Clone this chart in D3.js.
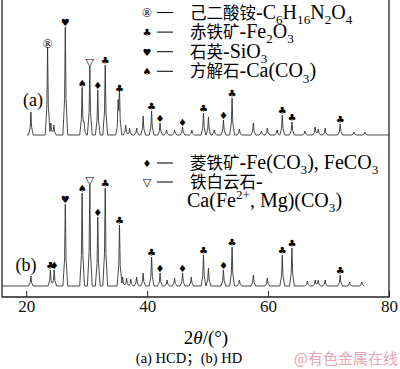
<!DOCTYPE html>
<html>
<head>
<meta charset="utf-8">
<script src="https://cdn.jsdelivr.net/npm/d3@7"></script>
<style>
  html, body { margin: 0; padding: 0; background: #fff; }
  svg { display: block; }
</style>
</head>
<body>
<div id="chart"></div>
<script>
// XRD patterns, 2θ (°) and intensity (a.u., above each pattern's own baseline)
const rangeA = [20.1, 80];
const peaksA = [20.78, 23.54, 24.08, 24.58, 26.47, 29.25, 29.6, 30.52, 31.84, 33.07, 35.2, 35.43, 36.45, 37.1, 38.27,
    39.34, 40.74, 42.14, 43.2, 44.54, 45.86, 47.4, 49.32, 50.14, 51.1, 52.62, 54.05, 55.26, 57.57, 58.9, 59.88, 61.5,
    62.35, 63.95, 66.1, 67.79, 68.3, 69.44, 71.92, 74.2, 76.0];
const intensA = [230, 880, 120, 100, 1080, 470, 100, 680, 450, 700, 270, 420, 100, 70, 70,
    190, 240, 120, 50, 50, 80, 50, 220, 180, 50, 150, 370, 60, 120, 40, 70, 50,
    200, 130, 40, 80, 60, 70, 110, 30, 30];

const rangeB = [16, 75.9];
const peaksB = [20.78, 24.0, 24.63, 26.47, 29.25, 30.52, 31.84, 33.07, 35.43, 35.95, 36.6, 37.3, 38.27, 39.34,
    40.74, 42.14, 43.3, 44.54, 45.86, 47.3, 49.32, 50.14, 52.62, 54.05, 55.26, 57.57, 59.88, 62.35, 63.95,
    66.5, 67.8, 68.3, 69.44, 71.92, 73.5, 75.5];
const intensB = [100, 160, 160, 820, 930, 1010, 690, 980, 610, 90, 80, 70, 90, 130,
    290, 130, 60, 80, 130, 90, 310, 180, 160, 390, 60, 110, 80, 310, 380,
    50, 60, 60, 60, 110, 40, 40];

const offsetA = 1510;   // pattern (a) is stacked above (b)

// phase markers
const markPosA = [23.54, 26.47, 29.25, 30.52, 31.84, 33.07, 35.43, 40.74, 42.14, 45.86, 49.32, 52.62, 54.05, 62.35, 63.95, 71.92];
const markSymA = ['®', '♥', '♠', '▽', '♦', '♣', '♣', '♣', '♦', '♦', '♣', '♦', '♣', '♣', '♣', '♣'];
const markPosB = [24.0, 24.63, 26.47, 29.25, 30.52, 31.84, 33.07, 35.43, 40.74, 42.14, 45.86, 49.32, 52.62, 54.05, 62.35, 63.95, 71.92];
const markSymB = ['♣', '♦', '♥', '♠', '▽', '♦', '♣', '♣', '♣', '♦', '♦', '♣', '♦', '♣', '♣', '♣', '♣'];

const xTicks = [20, 40, 60, 80];

const legendSymbols = ['®', '♣', '♥', '♠'];
const legendLabels = ['己二酸铵-C_{6}H_{16}N_{2}O_{4}', '赤铁矿-Fe_{2}O_{3}', '石英-SiO_{3}', '方解石-Ca(CO_{3})'];
const legend2Symbols = ['♦', '▽', ''];
const legend2Labels = ['菱铁矿-Fe(CO_{3}), FeCO_{3}', '铁白云石-', 'Ca(Fe^{2+}, Mg)(CO_{3})'];

const W = 400, H = 369;
const plot = { left: 2, right: 389, bottom: 297 };
const LAT = "'Liberation Serif', 'Times New Roman', serif";
const CJK = "'Noto Sans CJK SC', sans-serif";
const SYM = "'DejaVu Sans', sans-serif";

const svg = d3.select('#chart').append('svg')
    .attr('width', W).attr('height', H);

const x = d3.scaleLinear().domain([16, 80]).range([plot.left, plot.right]);
const y = d3.scaleLinear().domain([-110, 2860]).range([plot.bottom, 0]);

// peak profile (relative 2θ offset, relative height)
const profile = [[-0.4, 0], [-0.12, 0.33], [0, 1], [0.12, 0.33], [0.4, 0]];

function patternPoints(range, pos, inten, offset) {
    let ts = [range[0], range[1]];
    pos.forEach(p => profile.forEach(q => ts.push(p + q[0])));
    ts = ts.filter(t => t >= range[0] && t <= range[1]).sort((a, b) => a - b);
    return ts.map(t => {
        let v = 0;
        pos.forEach((p, i) => {
            const d = t - p;
            if (d <= profile[0][0] || d >= profile[profile.length - 1][0]) return;
            for (let k = 0; k < profile.length - 1; k++) {
                const a = profile[k], b = profile[k + 1];
                if (d >= a[0] && d <= b[0]) {
                    v += inten[i] * (a[1] + (b[1] - a[1]) * (d - a[0]) / (b[0] - a[0]));
                    break;
                }
            }
        });
        return [t, v + offset];
    });
}

const line = d3.line().x(d => x(d[0])).y(d => y(d[1]));

svg.append('path')
    .attr('d', line(patternPoints(rangeA, peaksA, intensA, offsetA)))
    .attr('fill', 'none').attr('stroke', '#333').attr('stroke-width', 0.9);
svg.append('path')
    .attr('d', line(patternPoints(rangeB, peaksB, intensB, 0)))
    .attr('fill', 'none').attr('stroke', '#333').attr('stroke-width', 0.9);

// one marker glyph; ® taken from the serif font so no emoji is used
function symbol(xp, yp, s) {
    const t = svg.append('text')
        .attr('x', xp).attr('y', yp)
        .attr('text-anchor', 'middle')
        .attr('fill', '#000')
        .text(s);
    if (s === '®') t.style('font-family', LAT).style('font-size', '13px');
    else if (s === '▽') t.style('font-family', SYM).style('font-size', '11px').style('font-weight', 'bold');
    else t.style('font-family', SYM).style('font-size', '10px');
    return t;
}

function drawMarks(pos, sym, peaks, inten, offset) {
    pos.forEach((p, i) => {
        const h = inten[peaks.indexOf(p)] + offset;
        symbol(x(p), y(h) - (sym[i] === '®' ? -1 : 1), sym[i]);
    });
}
drawMarks(markPosA, markSymA, peaksA, intensA, offsetA);
drawMarks(markPosB, markSymB, peaksB, intensB, 0);

// frame
svg.append('path')
    .attr('d', `M${plot.left},-2V${plot.bottom}H${plot.right}V-2`)
    .attr('fill', 'none').attr('stroke', '#222').attr('stroke-width', 1.3);

const xAxis = svg.append('g')
    .attr('transform', `translate(0,${plot.bottom})`)
    .call(d3.axisBottom(x).tickValues(xTicks).tickSize(-6).tickPadding(3));
xAxis.select('.domain').remove();
xAxis.selectAll('line').attr('stroke', '#222');
xAxis.selectAll('text').style('font-family', LAT).style('font-size', '17px').attr('fill', '#111');

// rich text: CJK chars, _{sub}, ^{sup}
function richText(sel, str, latSize, cjkSize) {
    const parts = [];
    let i = 0;
    while (i < str.length) {
        if ((str[i] === '_' || str[i] === '^') && str[i + 1] === '{') {
            const end = str.indexOf('}', i);
            parts.push({ t: str.slice(i + 2, end), k: str[i] === '_' ? 'sub' : 'sup' });
            i = end + 1;
            continue;
        }
        const k = /[\u3000-\u9fff\uff00-\uffef]/.test(str[i]) ? 'cjk' : 'lat';
        if (parts.length && parts[parts.length - 1].k === k) parts[parts.length - 1].t += str[i];
        else parts.push({ t: str[i], k });
        i++;
    }
    let shift = 0;
    parts.forEach(p => {
        const want = p.k === 'sub' ? latSize * 0.26 : p.k === 'sup' ? -latSize * 0.38 : 0;
        const ts = sel.append('tspan').attr('dy', want - shift).text(p.t);
        shift = want;
        if (p.k === 'cjk') ts.style('font-family', CJK).style('font-size', cjkSize + 'px');
        else ts.style('font-family', LAT).style('font-size', (p.k === 'lat' ? latSize : latSize * 0.66) + 'px');
    });
}

function drawLegend(symbols, labels, y0, step) {
    labels.forEach((lab, i) => {
        const cy = y0 + i * step;
        if (symbols[i]) {
            symbol(147, cy + 4, symbols[i]);
            svg.append('line').attr('x1', 157).attr('x2', 173).attr('y1', cy).attr('y2', cy)
                .attr('stroke', '#111').attr('stroke-width', 1.1);
        }
        const t = svg.append('text').attr('x', symbols[i] === '' ? 187 : 190).attr('y', cy + 6);
        richText(t, lab, 20, 16.5);
    });
}
drawLegend(legendSymbols, legendLabels, 12.5, 19.6);
drawLegend(legend2Symbols, legend2Labels, 163, 19);

// pattern labels
svg.append('text').attr('x', 33).attr('y', 106).attr('text-anchor', 'middle')
    .style('font-family', LAT).style('font-size', '18px').text('(a)');
svg.append('text').attr('x', 26).attr('y', 271).attr('text-anchor', 'middle')
    .style('font-family', LAT).style('font-size', '18px').text('(b)');

// axis title
const xt = svg.append('text').attr('x', 206).attr('y', 344).attr('text-anchor', 'middle')
    .style('font-family', LAT).style('font-size', '19px');
xt.append('tspan').text('2');
xt.append('tspan').style('font-style', 'italic').text('θ');
xt.append('tspan').text('/(°)');

// caption and watermark
const cap = svg.append('text').attr('x', 189).attr('y', 363).attr('text-anchor', 'middle');
richText(cap, '(a) HCD；(b) HD', 14.5, 14.5);
svg.append('text').attr('x', 398).attr('y', 364).attr('text-anchor', 'end')
    .style('font-family', CJK).style('font-size', '15px').attr('fill', '#eaa6b0')
    .text('@有色金属在线');
</script>
</body>
</html>
